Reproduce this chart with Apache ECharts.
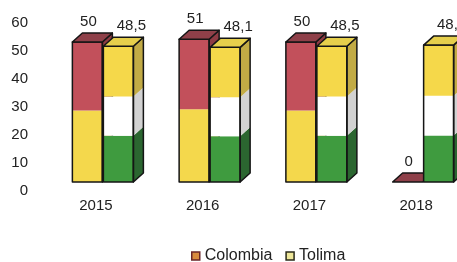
<!DOCTYPE html>
<html>
<head>
<meta charset="utf-8">
<script src="https://cdn.jsdelivr.net/npm/echarts@6/dist/echarts.min.js"></script>
<style>
  html, body { margin: 0; padding: 0; background: #fff; }
  #chart { width: 457px; height: 262px; }
</style>
</head>
<body>
<div id="chart"></div>
<script>
// datos del grafico
const years = ['2015', '2016', '2017', '2018'];
const colombia = [50, 51, 50, 0];
const tolima = [48.5, 48.1, 48.5, 48.9];
const yTicks = [0, 10, 20, 30, 40, 50, 60];

// franjas de color de cada barra (fraccion de la altura)
const colombiaBands = [
    { to: 0.51, front: '#f4d84c', side: '#c6ab3f' },
    { to: 1, front: '#c2505b', side: '#8e3b44' }
];
const colombiaTop = '#8f4049';
const tolimaBands = [
    { to: 0.34, front: '#3f9b3f', side: '#2b6630' },
    { to: 0.63, front: '#ffffff', side: '#d2d2d2' },
    { to: 1, front: '#f5d84a', side: '#c2ab45' }
];
const tolimaTop = '#e6cf4c';

const FONT = '"Liberation Sans", Arial, sans-serif';
const BAR_W = 30;
const DX = 10, DY = -9;

let chart = echarts.init(document.getElementById('chart'));

// dibuja una barra 3D por franjas
function makeRender(bands, topColor, offset, labelDx) {
    return function (params, api) {
        let i = api.value(0);
        let v = api.value(1);
        let base = api.coord([i, 0]);
        let top = api.coord([i, v]);
        let x0 = base[0] + offset;
        let h = base[1] - top[1];
        let children = [];
        let prev = 0;
        bands.forEach(function (b) {
            let yb = base[1] - h * prev;
            let yt = base[1] - h * b.to;
            prev = b.to;
            if (yb - yt < 0.3) return;
            children.push({
                type: 'polygon',
                shape: { points: [[x0 + BAR_W, yb], [x0 + BAR_W + DX, yb + DY], [x0 + BAR_W + DX, yt + DY], [x0 + BAR_W, yt]] },
                style: { fill: b.side }
            });
            children.push({
                type: 'rect',
                shape: { x: x0, y: yt, width: BAR_W, height: yb - yt },
                style: { fill: b.front }
            });
        });
        let stroke = { fill: null, stroke: '#151515', lineWidth: 1.5, lineJoin: 'round' };
        if (h > 0.3) {
            children.push({
                type: 'polygon',
                shape: { points: [[x0 + BAR_W, base[1]], [x0 + BAR_W + DX, base[1] + DY], [x0 + BAR_W + DX, top[1] + DY], [x0 + BAR_W, top[1]]] },
                style: stroke
            });
            children.push({
                type: 'rect',
                shape: { x: x0, y: top[1], width: BAR_W, height: h },
                style: stroke
            });
        }
        children.push({
            type: 'polygon',
            shape: { points: [[x0, top[1]], [x0 + DX, top[1] + DY], [x0 + BAR_W + DX, top[1] + DY], [x0 + BAR_W, top[1]]] },
            style: { fill: topColor, stroke: '#151515', lineWidth: 1.5, lineJoin: 'round' }
        });
        children.push({
            type: 'text',
            style: {
                text: String(v).replace('.', ','),
                x: x0 + BAR_W / 2 + labelDx,
                y: top[1] - 20,
                align: 'center',
                verticalAlign: 'middle',
                fontSize: 15,
                fontFamily: FONT,
                fill: '#222'
            }
        });
        return { type: 'group', children: children };
    };
}

let option = {
    animation: false,
    backgroundColor: '#fff',
    grid: { left: 50, right: -20, top: 14, bottom: 80, outerBoundsMode: 'none', containLabel: false },
    legend: {
        left: 186,
        top: 243,
        itemWidth: 8,
        itemHeight: 8,
        itemGap: 13,
        textStyle: { fontSize: 16, fontFamily: FONT, color: '#222' },
        data: [
            { name: 'Colombia', icon: 'rect', itemStyle: { color: '#d98a3e', borderColor: '#6a2528', borderWidth: 1.5 } },
            { name: 'Tolima', icon: 'rect', itemStyle: { color: '#eee79a', borderColor: '#2a2a1a', borderWidth: 1.5 } }
        ]
    },
    xAxis: {
        type: 'category',
        data: years,
        axisLine: { show: false },
        axisTick: { show: false },
        axisLabel: {
            margin: 16,
            fontSize: 15,
            fontFamily: FONT,
            color: '#222',
            padding: [0, 15, 0, 0]
        }
    },
    yAxis: {
        type: 'value',
        min: yTicks[0],
        max: yTicks[yTicks.length - 1],
        interval: 10,
        axisLine: { show: false },
        axisTick: { show: false },
        splitLine: { show: false },
        axisLabel: {
            margin: 22,
            fontSize: 15,
            fontFamily: FONT,
            color: '#222',
            verticalAlign: 'top',
            padding: [1, 0, 0, 0]
        }
    },
    series: [
        {
            name: 'Colombia',
            type: 'custom',
            renderItem: makeRender(colombiaBands, colombiaTop, -31, 1),
            data: colombia.map(function (v, i) { return [i, v]; }),
            itemStyle: { color: '#d98a3e' }
        },
        {
            name: 'Tolima',
            type: 'custom',
            renderItem: makeRender(tolimaBands, tolimaTop, 0, 13),
            data: tolima.map(function (v, i) { return [i, v]; }),
            itemStyle: { color: '#eee79a' }
        }
    ]
};

chart.setOption(option);
</script>
</body>
</html>
